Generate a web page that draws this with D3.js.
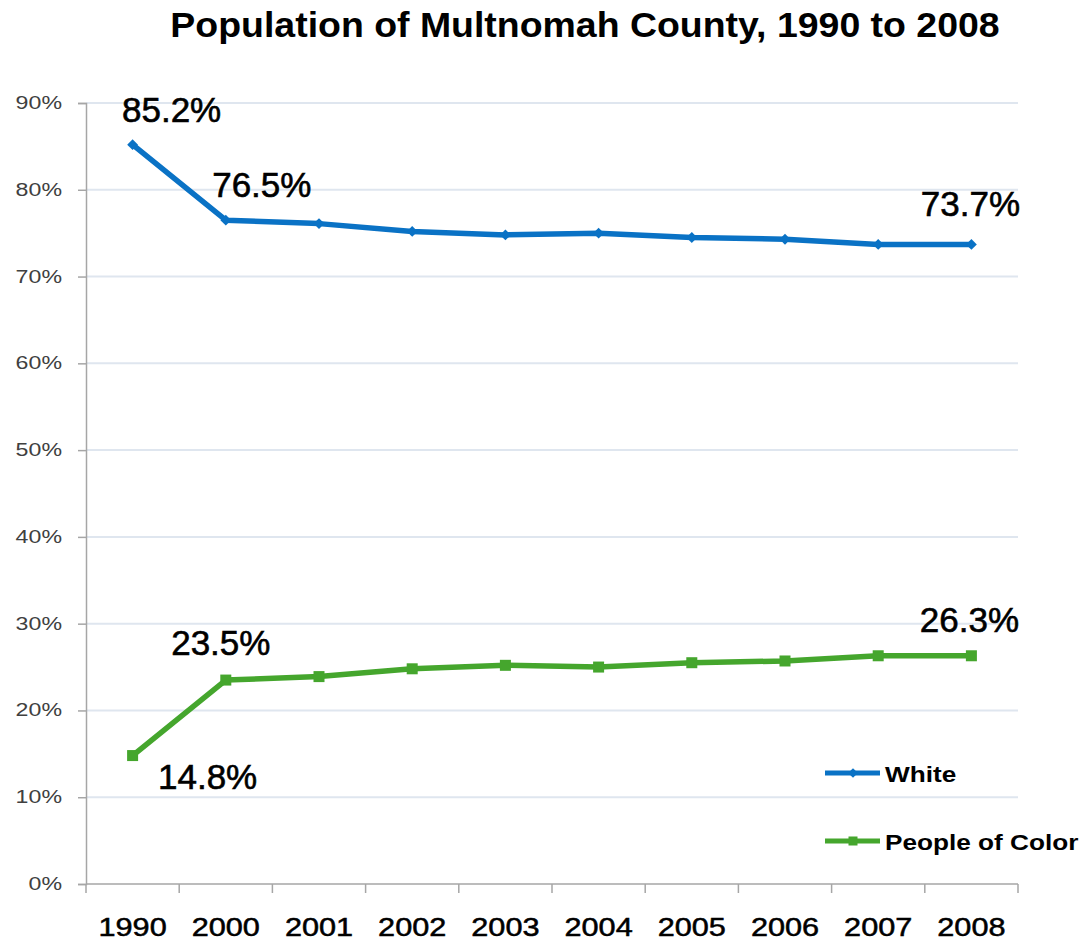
<!DOCTYPE html>
<html>
<head>
<meta charset="utf-8">
<script src="https://cdn.jsdelivr.net/npm/d3@7"></script>
<style>
  html, body { margin: 0; padding: 0; background: #fff; }
  svg { display: block; font-family: "Liberation Sans", Arial, sans-serif; }
</style>
</head>
<body>
<svg id="chart" width="1084" height="944"></svg>
<script>
// Share of county population by group, in percent
const years = ["1990", "2000", "2001", "2002", "2003", "2004", "2005", "2006", "2007", "2008"];
const white = [85.2, 76.5, 76.1, 75.2, 74.8, 75.0, 74.5, 74.3, 73.7, 73.7];
const peopleOfColor = [14.8, 23.5, 23.9, 24.8, 25.2, 25.0, 25.5, 25.7, 26.3, 26.3];
const yTicks = [0, 10, 20, 30, 40, 50, 60, 70, 80, 90];
const seriesNames = ["White", "People of Color"];
// Values printed next to the lines: [series index, year index]
const labelled = [[0, 0], [0, 1], [0, 9], [1, 0], [1, 1], [1, 9]];

const svg = d3.select("#chart");
const plotLeft = 86, plotRight = 1018, plotTop = 103, plotBottom = 884;

const x = d3.scaleBand().domain(years).range([plotLeft, plotRight]);
const y = d3.scaleLinear().domain([0, 90]).range([plotBottom, plotTop]);
const cx = d => x(d) + x.bandwidth() / 2;

// Text drawn with a horizontal stretch around its anchor point
function wideText(sel, px, py, sx) {
  return sel.append("text")
    .attr("transform", `translate(${px},${py}) scale(${sx},1)`);
}

// Title
wideText(svg, 585, 37, 1.07)
  .attr("text-anchor", "middle")
  .attr("font-size", 35).attr("font-weight", "bold")
  .attr("fill", "#000")
  .text("Population of Multnomah County, 1990 to 2008");

// Horizontal gridlines
svg.append("g")
  .selectAll("line")
  .data(yTicks.filter(d => d > 0))
  .join("line")
  .attr("x1", plotLeft).attr("x2", plotRight)
  .attr("y1", d => y(d)).attr("y2", d => y(d))
  .attr("stroke", "#dfe6ef").attr("stroke-width", 2);

// Y axis line and ticks
const yAxis = svg.append("g")
  .attr("transform", `translate(${plotLeft},0)`)
  .call(d3.axisLeft(y).tickValues(yTicks).tickFormat("").tickSize(8));
yAxis.select(".domain").attr("stroke", "#a6a6a6").attr("stroke-width", 1.5);
yAxis.selectAll(".tick line").attr("stroke", "#a6a6a6").attr("stroke-width", 1.5);

// Y tick labels
const yLabels = svg.append("g");
yTicks.forEach(t => {
  wideText(yLabels, 62, y(t) + 6, 1.22)
    .attr("text-anchor", "end")
    .attr("font-size", 19).attr("fill", "#404040")
    .text(t + "%");
});

// X axis with ticks at category boundaries
const xAxis = svg.append("g")
  .attr("transform", `translate(0,${plotBottom})`);
xAxis.append("line")
  .attr("x1", plotLeft).attr("x2", plotRight)
  .attr("stroke", "#a6a6a6").attr("stroke-width", 1.5);
const boundaries = years.map(d => x(d)).concat([x(years[years.length - 1]) + x.bandwidth()]);
xAxis.selectAll("line.tk")
  .data(boundaries)
  .join("line").attr("class", "tk")
  .attr("x1", d => d).attr("x2", d => d)
  .attr("y1", 0).attr("y2", 9)
  .attr("stroke", "#a6a6a6").attr("stroke-width", 1.5);
years.forEach(yr => {
  wideText(xAxis, cx(yr), 52, 1.18)
    .attr("text-anchor", "middle")
    .attr("font-size", 26).attr("fill", "#000")
    .attr("stroke", "#000").attr("stroke-width", 0.5)
    .text(yr);
});

const colors = ["#0a72c5", "#45a62d"];
const data = [white, peopleOfColor];

const line = d3.line()
  .x((d, i) => cx(years[i]))
  .y(d => y(d));

data.forEach((vals, s) => {
  svg.append("path")
    .datum(vals)
    .attr("d", line)
    .attr("fill", "none")
    .attr("stroke", colors[s])
    .attr("stroke-width", 5.5)
    .attr("stroke-linejoin", "round");
});

// Markers: diamonds for White, squares for People of Color
svg.append("g").selectAll("path")
  .data(white)
  .join("path")
  .attr("d", d3.symbol().type(d3.symbolDiamond2).size(75))
  .attr("transform", (d, i) => `translate(${cx(years[i])},${y(d)})`)
  .attr("fill", colors[0]);
svg.append("g").selectAll("rect")
  .data(peopleOfColor)
  .join("rect")
  .attr("x", (d, i) => cx(years[i]) - 5.5)
  .attr("y", d => y(d) - 5.5)
  .attr("width", 11).attr("height", 11)
  .attr("fill", colors[1]);

// Value labels
const labelOffsets = {
  "0,0": [39, -23], "0,1": [36, -23], "0,9": [-1, -28],
  "1,0": [75, 33], "1,1": [-5, -25], "1,9": [-2, -24]
};
const valueLabels = svg.append("g");
labelled.forEach(([s, i]) => {
  const off = labelOffsets[s + "," + i];
  wideText(valueLabels, cx(years[i]) + off[0], y(data[s][i]) + off[1], 1.0)
    .attr("text-anchor", "middle")
    .attr("font-size", 35).attr("fill", "#000")
    .attr("stroke", "#000").attr("stroke-width", 0.6)
    .text(data[s][i].toFixed(1) + "%");
});

// Legend
const legend = svg.append("g");
seriesNames.forEach((name, s) => {
  const ly = 773 + s * 68;
  legend.append("line")
    .attr("x1", 825).attr("x2", 880)
    .attr("y1", ly).attr("y2", ly)
    .attr("stroke", colors[s]).attr("stroke-width", 5);
  if (s === 0) {
    legend.append("path")
      .attr("d", d3.symbol().type(d3.symbolDiamond2).size(60))
      .attr("transform", `translate(853,${ly})`)
      .attr("fill", colors[s]);
  } else {
    legend.append("rect")
      .attr("x", 848.5).attr("y", ly - 4.5).attr("width", 9).attr("height", 9)
      .attr("fill", colors[s]);
  }
  wideText(legend, 885, ly + 9, 1.19)
    .attr("font-size", 22).attr("font-weight", "bold").attr("fill", "#000")
    .text(name);
});
</script>
</body>
</html>
